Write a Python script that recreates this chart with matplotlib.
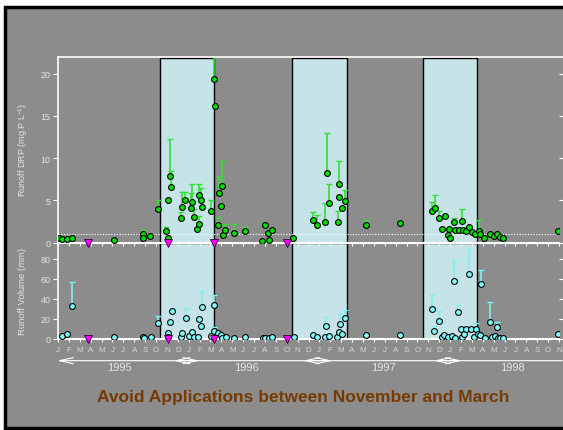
import numpy as np
import matplotlib
matplotlib.use('Agg')
import matplotlib.pyplot as plt
import matplotlib.transforms as mtransforms
from matplotlib.patches import Rectangle

plt.rcParams['font.family'] = ['Liberation Sans', 'DejaVu Sans']
plt.rcParams['mathtext.default'] = 'regular'

# x values are months since 1 Jan 1995
drp_x = [0.06, 0.39, 0.80, 1.26, 5.11, 7.83, 7.83, 8.48, 9.16, 9.94, 10.07, 10.13, 10.28, 10.40,
         11.27, 11.36, 11.69, 12.19, 12.33, 12.46, 12.74, 12.92, 12.97, 13.16, 13.20, 14.05,
         14.35, 14.39, 14.72, 14.78, 14.97, 15.03, 15.18, 15.36, 16.19, 17.13, 18.73, 19.04,
         19.31, 19.35, 19.62, 21.57, 23.37, 23.78, 24.52, 24.66, 24.90, 25.67, 25.83, 25.82,
         26.08, 26.34, 28.30, 31.40, 34.37, 34.57, 34.99, 35.51, 35.22, 35.86, 35.83, 36.01,
         36.36, 36.43, 36.78, 37.05, 37.22, 37.42, 37.71, 38.02, 38.25, 38.70, 38.77, 39.15,
         39.67, 40.04, 40.34, 40.59, 40.84, 45.94]
drp_val = [0.5, 0.4, 0.4, 0.5, 0.35, 1.0, 0.55, 0.8, 4.0, 1.4, 0.6, 5.05, 7.9, 6.6,
           2.9, 4.2, 5.1, 4.1, 4.8, 3.0, 1.6, 2.2, 5.7, 5.05, 4.2, 3.8,
           19.4, 16.2, 2.1, 5.85, 4.3, 6.75, 0.95, 1.55, 1.2, 1.35, 0.2, 2.1,
           1.15, 0.35, 1.55, 0.5, 2.7, 2.1, 2.4, 8.2, 4.65, 2.45, 6.95, 5.4,
           4.05, 4.95, 2.1, 2.3, 3.75, 4.15, 2.9, 3.2, 1.65, 1.65, 0.95, 0.5,
           2.5, 1.55, 1.55, 2.55, 1.55, 1.4, 1.85, 1.3, 1.0, 1.4, 1.0, 0.5,
           1.0, 0.85, 1.05, 0.7, 0.5, 1.4]
nan = np.nan
drp_hi = [nan, nan, nan, nan, nan, 1.5, nan, nan, 5.1, 1.9, nan, nan, 12.3, 8.5,
          3.6, 6.0, 6.0, 5.9, 7.0, 4.0, nan, 3.2, 7.0, 6.5, nan, 5.1,
          24.0, nan, 3.0, 7.9, nan, 9.7, nan, 2.2, 2.2, 1.9, nan, nan,
          nan, nan, nan, nan, 3.6, 3.3, 4.7, 13.0, 7.0, 3.8, 9.7, nan,
          nan, 6.2, 2.7, 2.6, 4.8, 5.7, 3.8, nan, nan, nan, nan, nan,
          2.9, nan, nan, 4.0, nan, nan, nan, nan, nan, 2.65, nan, nan,
          nan, nan, nan, nan, nan, nan]

vol_x = [0.39, 0.84, 1.27, 5.11, 7.81, 7.87, 8.51, 9.18, 10.10, 10.10, 10.31, 10.44, 11.27,
         11.36, 11.73, 12.06, 12.33, 12.52, 12.88, 12.98, 13.13, 13.22, 14.05, 14.35, 14.35,
         14.66, 14.94, 15.03, 15.40, 16.19, 17.14, 18.80, 19.04, 19.38, 19.62, 21.64, 23.42,
         23.78, 24.55, 24.64, 24.89, 25.65, 25.78, 25.87, 26.08, 26.33, 28.28, 31.43, 34.34,
         34.55, 34.96, 35.23, 35.47, 35.84, 36.18, 36.36, 36.43, 36.76, 37.01, 37.10, 37.25,
         37.47, 37.71, 37.95, 38.17, 38.38, 38.60, 38.75, 38.81, 39.18, 39.70, 39.88, 40.16,
         40.28, 40.43, 40.61, 40.86, 45.94]
vol_val = [3.0, 4.6, 32.7, 1.6, 1.7, 0.7, 1.7, 15.4, 5.7, 1.7, 16.7, 27.7, 1.7,
           5.4, 21.0, 3.0, 6.4, 1.7, 2.0, 19.4, 13.0, 31.7, 2.4, 34.0, 7.7,
           5.7, 4.0, 0.7, 1.4, 1.0, 1.7, 0.7, 0.7, 0.7, 1.7, 1.4, 3.7,
           1.4, 1.7, 13.0, 3.0, 1.4, 7.0, 15.0, 4.7, 21.0, 3.7, 4.0, 29.7,
           7.4, 18.0, 1.4, 3.7, 1.4, 2.7, 57.7, 1.0, 26.7, 9.7, 1.7, 4.7,
           9.4, 64.7, 10.0, 1.7, 10.0, 4.7, 4.0, 54.7, 1.0, 16.4, 1.7, 2.7,
           12.0, 1.0, 1.0, 1.0, 4.4]
vol_hi = [nan, nan, 57.0, nan, nan, nan, nan, 22.7, nan, nan, nan, 31.0, nan,
          nan, 30.4, nan, nan, nan, nan, nan, nan, 47.7, nan, 44.0, 12.0,
          nan, nan, nan, nan, nan, nan, nan, nan, nan, nan, nan, nan,
          nan, nan, 22.0, nan, nan, nan, 24.7, nan, 28.4, nan, nan, 44.0,
          13.0, 28.0, nan, nan, nan, nan, 78.7, nan, 34.0, nan, nan, nan,
          nan, 89.4, nan, nan, 16.0, nan, nan, 68.4, nan, 37.0, nan, nan,
          17.0, nan, nan, nan, nan]

# manure application dates
app_x = [2.78, 10.06, 14.28, 21.04]

# Nov-Mar periods (shaded)
periods = [(9.37, 14.35), (21.46, 26.51), (33.49, 38.45)]

month_labels = list('JFMAMJJASOND' * 3 + 'JFMAMJJASON')
years = ['1995', '1996', '1997', '1998']
year_pos = [5.6, 17.3, 29.9, 41.75]
year_arrows = [(-0.1, 13.0), (10.6, 25.2), (22.5, 37.1), (34.5, 46.3)]

bg = '#8c8c8c'
shade = '#c6e4e8'
txt = '#e4e4e4'

fig = plt.figure(figsize=(5.63, 4.31), dpi=100)
fig.patch.set_facecolor('white')
fig.add_artist(Rectangle((5 / 563, 2 / 431), 600 / 563, 421 / 431, transform=fig.transFigure,
                         facecolor=bg, edgecolor='black', linewidth=2.5, zorder=-10))
# white frame line along the top of the plot, running to the picture edge
fig.add_artist(plt.Line2D([58 / 563, 1.0], [373.2 / 431, 373.2 / 431], transform=fig.transFigure,
                          color='white', lw=1.2))

ax2 = fig.add_axes([58 / 563, 91.3 / 431, 501 / 563, 96 / 431])
ax1 = fig.add_axes([58 / 563, 187.3 / 431, 501 / 563, 185.9 / 431])

for ax, top in [(ax1, 21.85), (ax2, 96)]:
    ax.set_facecolor('none')
    ax.set_xlim(0, 46)
    for x0, x1 in periods:
        ax.add_patch(Rectangle((x0, 0), x1 - x0, top, facecolor=shade, edgecolor='black',
                               linewidth=1, zorder=0.5))
    ax.spines['right'].set_visible(False)
    ax.spines['top'].set_visible(False)
    ax.spines['left'].set_color('white')
    ax.spines['bottom'].set_color('white')
    ax.spines['left'].set_linewidth(1.2)
    ax.spines['bottom'].set_linewidth(1.5)
    ax.set_xticks(np.arange(0, 47))
    ax.tick_params(axis='x', direction='out', length=2.5, color='white', width=0.8)
    ax.tick_params(axis='y', direction='out', length=3.5, color='white', width=0.8,
                   labelcolor=txt, labelsize=6.5, right=True, pad=2)
    ax.plot(app_x, np.zeros(len(app_x)), 'v', mfc='#ff00ff', mec='#3a003a', ms=6.2, mew=0.6,
            clip_on=False, zorder=6)

# top panel: runoff DRP
ax1.set_ylim(0, 22)
ax1.set_yticks([0, 5, 10, 15, 20])
ax1.tick_params(axis='x', labelbottom=False)
ax1.axhline(1, color='white', ls=(0, (1, 1.5)), lw=0.8, zorder=1)
x = np.array(drp_x)
y = np.array(drp_val)
hi = np.array(drp_hi)
m = ~np.isnan(hi)
ax1.errorbar(x[m], y[m], yerr=[np.zeros(m.sum()), hi[m] - y[m]], fmt='none',
             ecolor='#33e033', elinewidth=1.2, capsize=2, capthick=1, zorder=3)
ax1.plot(x, y, 'o', mfc='#00dd00', mec='black', ms=4.2, mew=0.8, zorder=4)

# bottom panel: runoff volume
ax2.set_ylim(0, 96)
ax2.set_yticks([0, 20, 40, 60, 80])
ax2.set_xticklabels(month_labels)
ax2.tick_params(axis='x', labelcolor='#d6d6d6', labelsize=5.8, pad=3)
x = np.array(vol_x)
y = np.array(vol_val)
hi = np.array(vol_hi)
m = ~np.isnan(hi)
ax2.errorbar(x[m], y[m], yerr=[np.zeros(m.sum()), hi[m] - y[m]], fmt='none',
             ecolor='#80f0f0', elinewidth=1.2, capsize=2, capthick=1, zorder=3)
ax2.plot(x, y, 'o', mfc='#80ffff', mec='black', ms=4.2, mew=0.8, zorder=4)

# year arrows
tr = mtransforms.blended_transform_factory(ax2.transData, ax2.transAxes)
for i, (x0, x1) in enumerate(year_arrows):
    style = '<->' if i < 3 else '<-'
    ax2.annotate('', xy=(x1, -0.229), xytext=(x0, -0.229), xycoords=tr, textcoords=tr,
                 annotation_clip=False,
                 arrowprops=dict(arrowstyle=style + ',head_length=1.0,head_width=0.22',
                                 mutation_scale=10, color='white', lw=0.8,
                                 shrinkA=0, shrinkB=0))
    ax2.text(year_pos[i], -0.295, years[i], transform=tr, ha='center', va='center',
             color=txt, fontsize=8)

fig.text(22.7 / 563, (431 - 150) / 431, 'Runoff DRP (mg P L$^{-1}$)', rotation=90,
         ha='center', va='center', color=txt, fontsize=6.5)
fig.text(22.7 / 563, (431 - 291) / 431, 'Runoff Volume (mm)', rotation=90,
         ha='center', va='center', color=txt, fontsize=6.8)
fig.text(303 / 563, (431 - 398) / 431, 'Avoid Applications between November and March',
         ha='center', va='center', color='#773a00', fontsize=12.5, fontweight='bold')

fig.savefig('out.png', dpi=100)
